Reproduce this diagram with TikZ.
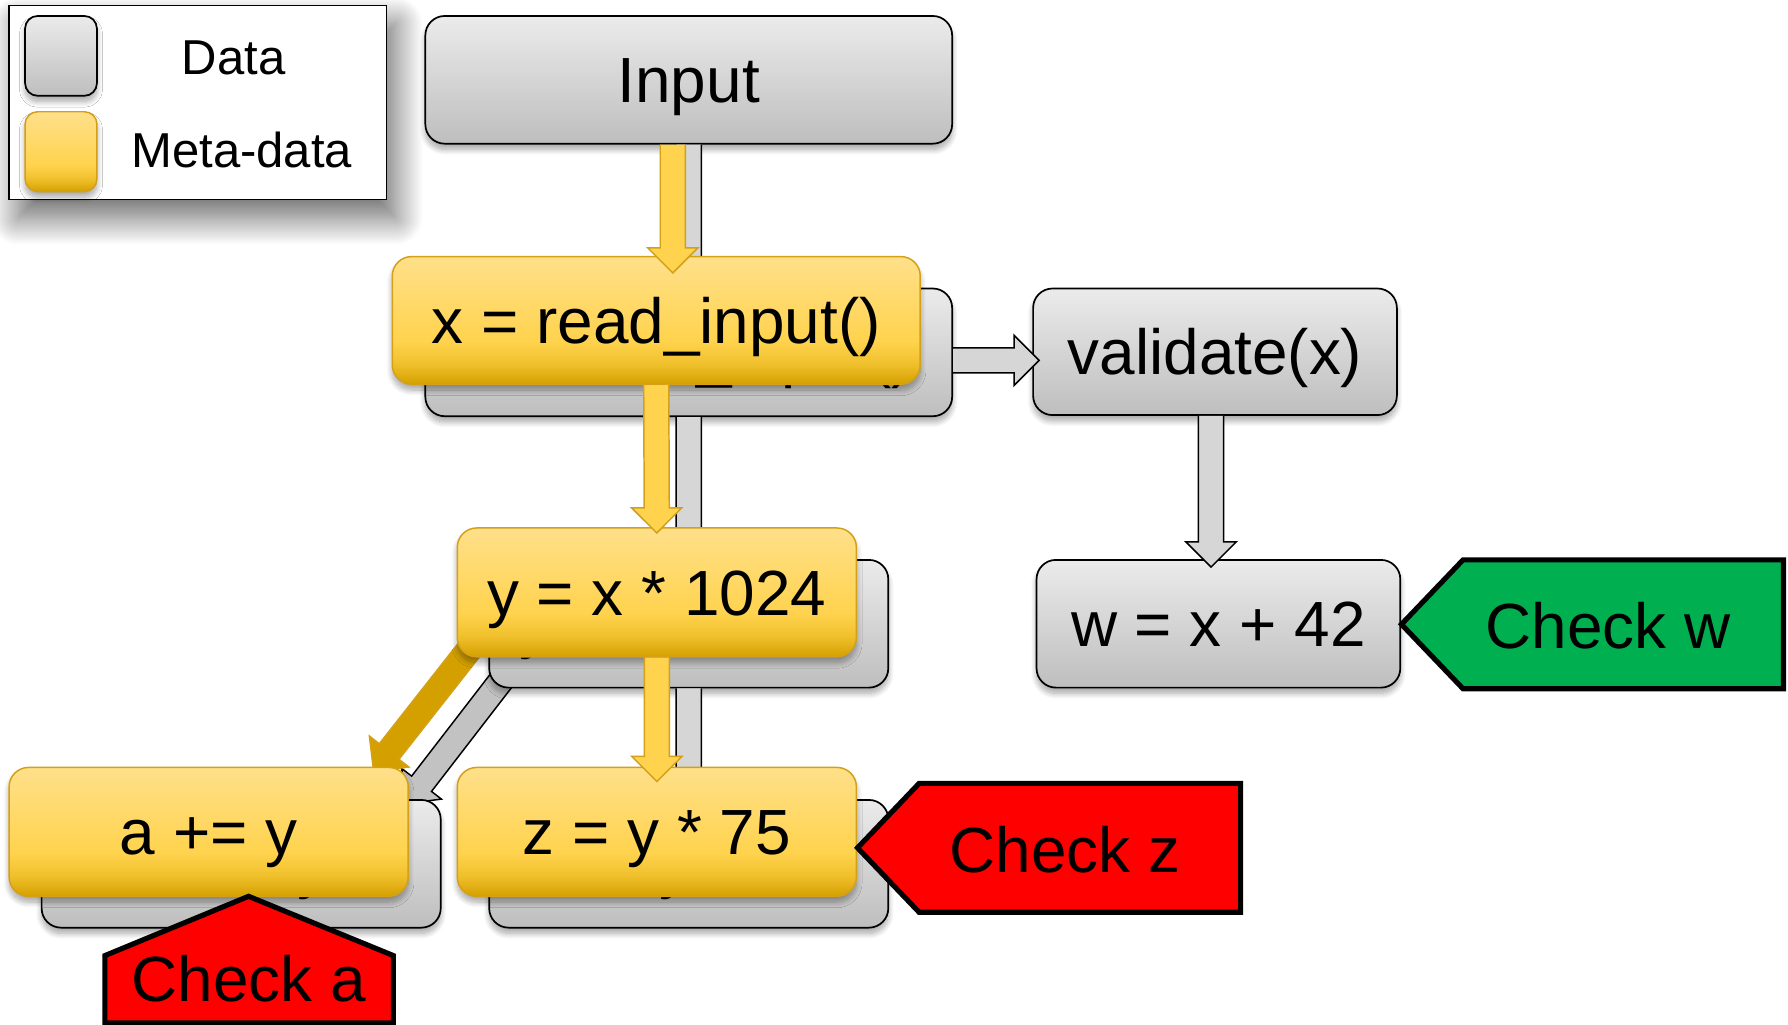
\documentclass[tikz,border=0pt]{standalone}
\usepackage{fontspec}
\setmainfont{Liberation Sans}
\usetikzlibrary{calc,shadows.blur}
\definecolor{grayT}{HTML}{EBEBEB}
\definecolor{grayB}{HTML}{BEBEBE}
\definecolor{yelT}{HTML}{FFE08A}
\definecolor{yelM}{HTML}{FFD34E}
\definecolor{yelD}{HTML}{F0C02C}
\definecolor{yelB}{HTML}{D4A000}
\definecolor{golden}{HTML}{D4A017}
\definecolor{arrgray}{HTML}{D6D6D6}
\definecolor{arrgrayd}{HTML}{C2C2C2}
\definecolor{arryel}{HTML}{FFD34E}
\definecolor{arryeld}{HTML}{D4A000}
\definecolor{chkgreen}{HTML}{00B050}
\definecolor{chkred}{HTML}{FF0000}
\pgfdeclareverticalshading{graysh}{100bp}{color(0bp)=(grayB); color(25bp)=(grayB); color(75bp)=(grayT); color(100bp)=(grayT)}
\pgfdeclareverticalshading{metash}{100bp}{color(0bp)=(yelB); color(25bp)=(yelB); color(33bp)=(yelD); color(42bp)=(yelM); color(75bp)=(yelT); color(100bp)=(yelT)}
\pgfdeclarelayer{back}
\pgfsetlayers{back,main}
\newcommand{\BigTxt}{\fontsize{56}{60}\selectfont}
\newcommand{\LegTxt}{\fontsize{43}{48}\selectfont}
\newcommand{\blockarr}[3]{%
  \coordinate (ba-s) at (#2);
  \coordinate (ba-t) at (#3);
  \coordinate (ba-h) at ($(ba-t)!22pt!(ba-s)$);
  \coordinate (ba-1) at ($(ba-s)!11pt!90:(ba-t)$);
  \coordinate (ba-2) at ($(ba-h)!11pt!-90:(ba-s)$);
  \coordinate (ba-3) at ($(ba-h)!22pt!-90:(ba-s)$);
  \coordinate (ba-4) at ($(ba-h)!22pt!90:(ba-s)$);
  \coordinate (ba-5) at ($(ba-h)!11pt!90:(ba-s)$);
  \coordinate (ba-6) at ($(ba-s)!11pt!-90:(ba-t)$);
  \path[#1,draw=none] (ba-1) -- (ba-2) -- (ba-3) -- (ba-t) -- (ba-4) -- (ba-5) -- (ba-6) -- cycle;
  \path[#1,fill=none] (ba-1) -- (ba-2) -- (ba-3) -- (ba-t) -- (ba-4) -- (ba-5) -- (ba-6);
}
\begin{document}
\begin{tikzpicture}[x=1pt,y=-1pt,
  boxshadow/.style={blur shadow={shadow xshift=0pt,shadow yshift=-5pt,shadow blur radius=5pt,shadow blur steps=12,shadow opacity=35}},
  databox/.style={draw=black,line width=1.5pt,rounded corners=17pt,shading=graysh,inner sep=0pt,font=\BigTxt,text height=40pt,text depth=0pt,boxshadow},
  metabox/.style={databox,draw=golden,line width=1.3pt,shading=metash},
  grayarr/.style={fill=arrgray,draw=black,line width=1.3pt,line join=miter},
  grayarrd/.style={grayarr,fill=arrgrayd},
  metaarr/.style={fill=arryel,draw=golden,line width=1.3pt,line join=miter},
  metaarrd/.style={metaarr,fill=arryeld},
  checkshape/.style={draw=black,line width=4.5pt,line join=miter},
  checktxt/.style={font=\BigTxt,inner sep=0pt,text height=40pt,text depth=0pt},
  legtxt/.style={font=\LegTxt,inner sep=0pt,text height=31pt,text depth=0pt}
]
\clip (0,0) rectangle (1568,898);
\useasboundingbox (0,0) rectangle (1568,898);

% legend
\node[draw=black,line width=1.3pt,fill=white,minimum width=331pt,minimum height=170pt,inner sep=0pt,
  blur shadow={shadow xshift=8pt,shadow yshift=-16pt,shadow blur radius=24pt,shadow blur steps=30,shadow opacity=60}] (legend) at (173.5,90) {};
\node[databox,rounded corners=11pt,minimum width=63pt,minimum height=70pt] (lgd) at (53.5,49) {};
\node[metabox,rounded corners=11pt,minimum width=63pt,minimum height=70pt] (lgm) at (53.5,133) {};
\node[legtxt] (lgdt) at (205,50) {Data};
\node[legtxt] (lgmt) at (212,131) {Meta-data};

% data layer
\node[databox,minimum width=462pt,minimum height=112pt] (in) at (604,70) {Input};
\node[databox,minimum width=462pt,minimum height=112pt] (rdg) at (604,309) {x = read\_input()};
\node[databox,minimum width=319pt,minimum height=111pt] (val) at (1065.5,308.5) {validate(x)};
\node[databox,minimum width=319pt,minimum height=112pt] (w) at (1068.5,547) {w = x + 42};
\node[databox,minimum width=350pt,minimum height=112pt] (zg) at (604,757.5) {z = y * 75};
\node[databox,minimum width=350pt,minimum height=112pt] (ag) at (211.5,757.5) {a += y};
\node[databox,minimum width=350pt,minimum height=112pt] (yg) at (604,547) {y = x * 1024};

\blockarr{grayarr}{in.south}{$(rdg.north)+(0,6)$}
\blockarr{grayarr}{$(rdg.east)+(0,7)$}{$(val.west)+(6,7.5)$}
\blockarr{grayarr}{$(val.south)+(-3.5,0)$}{$(w.north)+(-6.5,7)$}
\blockarr{grayarr}{rdg.south}{$(yg.north)+(0,6)$}
\blockarr{grayarr}{yg.south}{$(zg.north)+(0,6)$}

% meta-data layer
\node[metabox,minimum width=463pt,minimum height=112pt] (rdy) at (575.5,281) {x = read\_input()};
\node[metabox,minimum width=350pt,minimum height=113pt] (yy) at (576,519.5) {y = x * 1024};
\node[metabox,minimum width=350pt,minimum height=113pt] (ay) at (183,729.5) {a += y};
\node[metabox,minimum width=350pt,minimum height=113pt] (zy) at (576,729.5) {z = y * 75};

\blockarr{metaarr}{$(in.south)+(-14,0)$}{$(rdy.north)+(14.5,15)$}
\blockarr{metaarr}{rdy.south}{$(yy.north)+(0,5)$}
\blockarr{metaarr}{yy.south}{$(zy.north)+(0,13)$}

\begin{pgfonlayer}{back}
\blockarr{grayarrd}{$(yg.south west)+(19,-17)$}{$(ag.north east)+(-31,4)$}
\blockarr{metaarrd}{$(yy.south west)+(19,-17)$}{$(ay.north east)+(-31,4)$}
\end{pgfonlayer}

% checks
\draw[checkshape,fill=chkgreen] (1229,547.5) -- (1283,491) -- (1564,491) -- (1564,604) -- (1283,604) -- cycle;
\node[checktxt] (ckw) at (1410,549) {Check w};
\draw[checkshape,fill=chkred] (752,743.5) -- (806,687) -- (1088,687) -- (1088,800) -- (806,800) -- cycle;
\node[checktxt] (ckz) at (934,745) {Check z};
\draw[checkshape,fill=chkred] (218,786) -- (345,838) -- (345,897) -- (92,897) -- (92,838) -- cycle;
\node[checktxt] (cka) at (218,858) {Check a};
\end{tikzpicture}
\end{document}
